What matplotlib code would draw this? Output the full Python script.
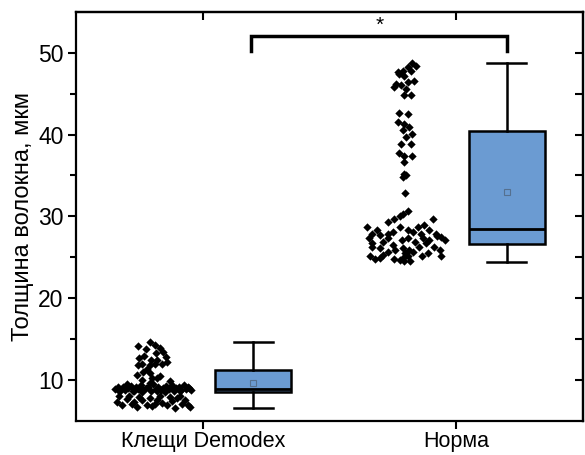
import numpy as np
import matplotlib
matplotlib.use("Agg")
import matplotlib.pyplot as plt

plt.rcParams['font.family'] = ['Liberation Sans', 'DejaVu Sans']

groups = ['Клещи Demodex', 'Норма']
ylabel = 'Толщина волокна, мкм'

# individual fibre measurements (x offset from category, thickness)
demodex_dx = [
    -0.255, -0.21, -0.19, -0.17, -0.185, -0.155, -0.145, -0.25, -0.23, -0.205,
    -0.18, -0.255, -0.24, -0.21, -0.19, -0.16, -0.235, -0.21, -0.22, -0.26,
    -0.20, -0.17, -0.14, -0.225, -0.24, -0.13, -0.18,
    -0.345, -0.335, -0.325, -0.315, -0.305, -0.295, -0.285, -0.275, -0.265, -0.255,
    -0.245, -0.235, -0.225, -0.215, -0.205, -0.195, -0.185, -0.175, -0.165, -0.155,
    -0.145, -0.135, -0.125, -0.115, -0.105, -0.095, -0.085, -0.075, -0.065, -0.055,
    -0.045, -0.33, -0.30, -0.27, -0.24, -0.21, -0.18, -0.15, -0.12, -0.09, -0.06,
    -0.34, -0.32, -0.30, -0.28, -0.26, -0.24, -0.22, -0.20, -0.18, -0.16,
    -0.14, -0.12, -0.10, -0.08, -0.06, -0.05, -0.33, -0.29, -0.25, -0.21,
    -0.17, -0.13, -0.09, -0.07, -0.27, -0.19, -0.11,
]
demodex_y = [
    14.1, 14.6, 14.3, 13.9, 13.3, 13.4, 12.8, 12.7, 12.9, 12.5,
    12.4, 11.8, 12.0, 11.8, 12.0, 11.9, 11.0, 10.9, 11.4, 10.6,
    10.2, 10.5, 12.2, 13.8, 10.0, 9.9, 10.2,
    8.9, 9.1, 8.7, 9.2, 8.8, 9.0, 9.3, 8.6, 9.1, 8.9,
    9.4, 8.8, 9.0, 9.2, 8.7, 9.5, 8.9, 9.1, 8.8, 9.0,
    9.3, 8.9, 9.1, 8.7, 9.0, 9.2, 8.8, 9.4, 8.9, 9.0,
    8.8, 8.6, 9.5, 8.7, 8.5, 9.6, 8.6, 8.5, 9.4, 8.6, 9.2,
    7.3, 6.9, 7.7, 7.1, 6.7, 7.5, 7.0, 6.8, 7.6, 7.2,
    6.9, 7.4, 7.8, 7.1, 7.0, 6.7, 8.0, 8.1, 7.9, 7.8,
    8.0, 7.9, 8.1, 7.6, 7.3, 7.1, 6.6,
]

norma_dx = [
    -0.173, -0.159, -0.19, -0.21, -0.23, -0.178, -0.205, -0.237, -0.218, -0.19,
    -0.165, -0.244, -0.198, -0.205, -0.178, -0.224,
    -0.224, -0.19, -0.23, -0.205, -0.185, -0.21, -0.172, -0.198, -0.218, -0.178,
    -0.224, -0.205, -0.172, -0.205, -0.205, -0.211, -0.196, -0.202, -0.19, -0.211,
    -0.35, -0.31, -0.27, -0.245, -0.22, -0.09, -0.345, -0.33, -0.34, -0.30,
    -0.29, -0.27, -0.25, -0.22, -0.19, -0.17, -0.15, -0.125, -0.105, -0.08,
    -0.06, -0.045, -0.065, -0.06, -0.22, -0.21, -0.19, -0.17, -0.145, -0.12,
    -0.27, -0.29, -0.24, -0.21, -0.185, -0.215, -0.19, -0.16, -0.13, -0.105,
    -0.30, -0.33, -0.27, -0.14, -0.085, -0.25, -0.33, -0.30, -0.20, -0.11,
    -0.135, -0.205, -0.18, -0.245, -0.32, -0.075,
]
norma_y = [
    48.8, 48.4, 48.2, 47.8, 47.6, 47.8, 47.2, 46.2, 46.0, 46.4,
    46.6, 45.8, 45.6, 44.8, 44.8, 47.4,
    42.6, 42.5, 41.5, 41.3, 40.9, 40.5, 40.1, 39.7, 38.9, 38.9,
    37.8, 37.4, 37.4, 36.6, 35.2, 34.8, 35.0, 32.8, 30.7, 30.3,
    28.7, 28.3, 29.3, 29.7, 30.0, 29.7, 27.3, 26.3, 25.2, 24.9,
    26.9, 27.3, 28.1, 28.7, 28.3, 28.1, 28.7, 28.9, 28.3, 27.9,
    27.5, 27.1, 25.9, 25.1, 24.7, 24.9, 25.1, 25.7, 26.3, 26.7,
    25.7, 25.3, 25.9, 26.1, 25.9, 27.1, 27.3, 26.9, 27.3, 27.1,
    27.7, 27.9, 27.9, 27.9, 26.3, 26.5, 26.7, 26.1, 25.5, 25.5,
    25.1, 24.5, 24.6, 24.8, 24.8, 27.6,
]

# box statistics: whisker low, Q1, median, Q3, whisker high, mean
box_lo = [6.6, 24.4]
box_q1 = [8.55, 26.6]
box_med = [8.85, 28.4]
box_q3 = [11.2, 40.4]
box_hi = [14.6, 48.7]
box_mean = [9.6, 33.0]

fig = plt.figure(figsize=(5.85, 4.55), dpi=100)
ax = fig.add_axes([0.130, 0.075, 0.866, 0.899])

pos = np.array([1, 2])
ax.scatter(pos[0] + np.array(demodex_dx), demodex_y, marker='D', s=18, c='black', lw=0, zorder=3)
ax.scatter(pos[1] + np.array(norma_dx), norma_y, marker='D', s=18, c='black', lw=0, zorder=3)

stats = []
for i in range(2):
    stats.append(dict(whislo=box_lo[i], q1=box_q1[i], med=box_med[i], q3=box_q3[i],
                      whishi=box_hi[i], mean=box_mean[i], fliers=[]))
ax.bxp(stats, positions=pos + 0.2, widths=0.3, showmeans=True, patch_artist=True,
       boxprops=dict(facecolor='#6b9bd2', edgecolor='black', linewidth=1.8),
       medianprops=dict(color='black', linewidth=2.0),
       whiskerprops=dict(color='black', linewidth=1.8),
       capprops=dict(color='black', linewidth=1.8),
       meanprops=dict(marker='s', markersize=4.2, markerfacecolor='none',
                      markeredgecolor='#55708f', markeredgewidth=0.8),
       capwidths=0.155, manage_ticks=False)

# significance bracket
br_y, br_leg = 52.0, 50.2
ax.plot([1.19, 1.19, 2.2, 2.2], [br_leg, br_y, br_y, br_leg], color='black', lw=2.5,
        solid_joinstyle='miter', clip_on=False)
ax.text(1.70, 53.3, '*', ha='center', va='center', fontsize=15)

ax.set_xlim(0.5, 2.5)
ax.set_ylim(5, 55)
ax.set_xticks(pos)
ax.set_xticklabels(groups, fontsize=15.5)
ax.set_yticks([10, 20, 30, 40, 50])
ax.set_yticks([15, 25, 35, 45], minor=True)
ax.tick_params(axis='y', labelsize=16.5, pad=3)
ax.tick_params(axis='x', pad=1)
ax.set_ylabel(ylabel, fontsize=17, labelpad=3)
ax.tick_params(which='major', direction='out', length=6, width=1.5)
ax.tick_params(which='minor', direction='out', length=4, width=1.5)
for sp in ax.spines.values():
    sp.set_linewidth(1.6)

right = ax.secondary_yaxis('right')
right.set_yticks([10, 15, 20, 25, 30, 35, 40, 45, 50])
right.tick_params(direction='in', length=6, width=1.5, labelright=False)
right.spines['right'].set_linewidth(1.6)
top = ax.secondary_xaxis('top')
top.set_xticks(pos)
top.tick_params(direction='in', length=6, width=1.5, labeltop=False)
top.spines['top'].set_linewidth(1.6)

fig.savefig('out.png', dpi=100)
